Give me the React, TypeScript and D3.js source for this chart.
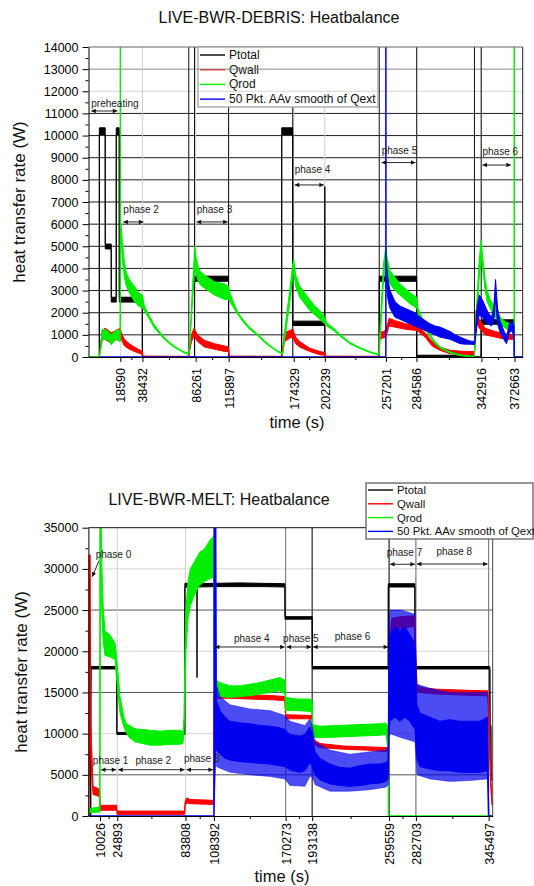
import { useEffect, useRef } from "react";
import * as d3 from "d3";

type Row = [number, number, number]; // time (s), lower edge (W), upper edge (W) of the noisy trace

const FONT = "'Liberation Sans', Arial, Helvetica, sans-serif";
const seriesNames = ["Ptotal", "Qwall", "Qrod", "50 Pkt. AAv smooth of Qext"];
const seriesColors = ["#000000", "#ff0000", "#00ee00", "#0000f0"];

// ---------------- LIVE-BWR-DEBRIS ----------------
const debrisXTicks = [18590, 38432, 86261, 115897, 174329, 202239, 257201, 284586, 342916, 372663];
const debrisYTicks = [0, 1000, 2000, 3000, 4000, 5000, 6000, 7000, 8000, 9000, 10000, 11000, 12000, 13000, 14000];
const debrisYMinor = [500, 1500, 2500, 3500, 4500, 5500, 6500, 7500, 8500, 9500, 10500, 11500, 12500, 13500];
const debrisMarkers = [80080, 85210, 115820, 173440, 251140, 284810, 336670, 342700];

const debrisPtotal: Row[] = [
  [-10000, 0, 0], [-300, 0, 0], [-250, 10050, 10350], [5000, 10050, 10350], [5050, 4880, 5100],
  [10400, 4880, 5100], [10450, 2480, 2700], [14900, 2480, 2700], [14950, 10050, 10350], [17600, 10050, 10350],
  [17650, 2480, 2700], [38300, 2480, 2700], [38350, 0, 0], [85200, 0, 0], [85250, 3420, 3650],
  [115800, 3420, 3650], [115850, 0, 0], [163500, 0, 0], [163550, 10050, 10350], [173400, 10050, 10350],
  [173450, 1420, 1620], [202200, 1420, 1620], [202250, 0, 7700], [202300, 0, 0], [251100, 0, 0],
  [251150, 3420, 3650], [284750, 3420, 3650], [284800, 20, 80], [336600, 20, 80], [336650, 0, 0],
  [342700, 0, 0], [342750, 1480, 1680], [372400, 1480, 1680], [372450, 0, 0], [380000, 0, 0],
];
const debrisQwall: Row[] = [
  [-10000, 0, 0], [-400, 0, 0], [2400, 800, 1200], [5000, 800, 1300], [10500, 600, 1100], [15000, 800, 1200],
  [18590, 800, 1300], [19500, 800, 1100], [22200, 500, 800], [26700, 350, 600], [31200, 250, 450],
  [36600, 150, 300], [38400, 100, 250], [39000, 0, 40], [79800, 0, 30], [82500, 700, 1000], [84800, 950, 1300],
  [87900, 700, 1000], [94200, 450, 750], [103200, 350, 600], [112200, 250, 500], [115800, 250, 450],
  [116500, 0, 40], [163500, 0, 30], [166200, 700, 1100], [170700, 850, 1200], [173400, 900, 1250],
  [176100, 600, 900], [179700, 450, 700], [188700, 250, 400], [197800, 100, 250], [202200, 80, 200],
  [203000, 0, 40], [251100, 0, 30], [251500, 800, 1100], [257000, 900, 1200], [260000, 1400, 1750],
  [265000, 1350, 1650], [275000, 1250, 1500], [284800, 1200, 1450], [292300, 900, 1100], [298600, 500, 700],
  [305800, 300, 450], [314800, 150, 300], [328300, 100, 250], [336700, 100, 250], [338000, 1600, 2100],
  [341000, 1300, 1700], [346300, 1000, 1300], [355300, 900, 1150], [364300, 800, 1050], [372400, 800, 1000],
  [372600, 0, 0], [380000, 0, 0],
];
const debrisQrod: Row[] = [
  [-10000, 0, 0], [-300, 0, 0], [2400, 800, 1250], [6900, 800, 1200], [10500, 550, 1000], [14100, 800, 1200],
  [18400, 700, 1200], [18590, 700, 15000], [18700, 5600, 6300], [20400, 4400, 5200], [22200, 3600, 4300],
  [24000, 3200, 3800], [26700, 2900, 3500], [31200, 2500, 3200], [35000, 2300, 2900], [38400, 2200, 2800],
  [40200, 2100, 2300], [44700, 1700, 1850], [49200, 1300, 1450], [53700, 1050, 1150], [58200, 800, 880],
  [62700, 600, 670], [67200, 430, 490], [71700, 300, 350], [76200, 180, 230], [80000, 120, 170],
  [80700, 250, 450], [83400, 2500, 3200], [85500, 4000, 5000], [86300, 3800, 4600], [87900, 3500, 4200],
  [89700, 3300, 3900], [94200, 3100, 3700], [103200, 2800, 3400], [112200, 2600, 3300], [115800, 2600, 3200],
  [117000, 2500, 2900], [121200, 2150, 2350], [124300, 1900, 2000], [130200, 1500, 1600], [134700, 1250, 1350],
  [139700, 1060, 1140], [148200, 650, 720], [155100, 390, 440], [160000, 230, 280], [164400, 120, 170],
  [166200, 800, 1200], [170700, 2400, 3000], [173400, 3600, 4200], [174300, 3900, 4400], [176100, 3200, 3700],
  [179700, 2700, 3200], [184200, 2400, 2900], [188700, 2100, 2600], [193300, 1900, 2300], [197800, 1700, 2100],
  [202200, 1500, 1800], [204000, 1400, 1550], [211300, 1150, 1250], [216400, 920, 1000], [224800, 600, 660],
  [233800, 380, 430], [242800, 200, 240], [249900, 100, 140], [251100, 100, 140], [252000, 800, 1500],
  [255000, 3500, 4200], [257200, 4300, 5000], [258100, 3800, 4500], [260800, 3300, 3900], [265300, 3000, 3600],
  [269800, 2800, 3300], [274300, 2600, 3100], [278800, 2400, 2900], [284800, 2200, 2700], [286000, 2000, 2200],
  [292300, 1300, 1450], [296800, 900, 1000], [301300, 600, 700], [305800, 400, 470], [314800, 180, 230],
  [323800, 60, 100], [332800, 20, 50], [336500, 20, 50], [337300, 500, 1200], [339100, 2000, 2800],
  [341000, 3600, 4400], [342700, 4500, 5300], [344500, 3800, 4300], [346300, 3000, 3500], [348100, 2500, 3000],
  [350800, 2200, 2600], [355300, 1800, 2200], [359800, 1500, 1800], [364300, 1300, 1600], [368800, 1200, 1500],
  [372300, 1100, 1400], [372400, 0, 15000], [372500, 0, 0], [380000, 0, 0],
];
const debrisQext: Row[] = [
  [0, 0, 0], [257000, 0, 0], [257100, 0, 15000], [257250, 3800, 4600], [258100, 3000, 4000], [259000, 2600, 3500],
  [260800, 2200, 3000], [265300, 1800, 2500], [269800, 1700, 2300], [274300, 1600, 2200], [278800, 1500, 2100],
  [283300, 1400, 2000], [287800, 1300, 1800], [292300, 1200, 1650], [296800, 1100, 1500], [301300, 1000, 1400],
  [305800, 900, 1350], [310300, 850, 1250], [314800, 800, 1150], [319300, 700, 1000], [323800, 600, 900],
  [328300, 580, 800], [332800, 580, 720], [336500, 560, 700], [337000, 600, 800], [339100, 1500, 2300],
  [341000, 1900, 2800], [343600, 1800, 2600], [346300, 1600, 2300], [349000, 1500, 2000], [352000, 1400, 1800],
  [354000, 1600, 2200], [355600, 2600, 3500], [357400, 1500, 2200], [359800, 1100, 1600], [363000, 800, 1200],
  [365500, 600, 900], [368000, 1100, 1500], [370600, 1200, 1600], [372300, 800, 1400], [372500, 0, 0],
  [380000, 0, 0],
];
const debrisPhaseNames = ["preheating", "phase 2", "phase 3", "phase 4", "phase 5", "phase 6"];
const debrisPhaseStart = [-8400, 20400, 86261, 174329, 252400, 343000];
const debrisPhaseEnd = [16800, 40200, 115897, 202239, 284586, 370300];
const debrisPhaseLabelW = [11430, 6640, 6640, 8490, 9320, 9260];
const debrisPhaseArrowW = [11110, 6100, 6100, 7770, 8780, 8670];

// ---------------- LIVE-BWR-MELT ----------------
const meltXTicks = [10026, 24893, 83808, 108392, 170273, 193138, 259559, 282703, 345497];
const meltYTicks = [0, 5000, 10000, 15000, 20000, 25000, 30000, 35000];
const meltYMinor = [2500, 7500, 12500, 17500, 22500, 27500, 32500];
const meltMarkersDark = [193138, 259559];
const meltMarkersLight = [170273, 282703, 345497];

const meltPtotal: Row[] = [
  [0, 0, 0], [2000, 0, 0], [2100, 14300, 14600], [2250, 17850, 18150], [24500, 17850, 18150],
  [24600, 9900, 10150], [83200, 9900, 10150], [83300, 27800, 28250], [93650, 27800, 28200],
  [93750, 16800, 28200], [93850, 27800, 28200], [110000, 27850, 28250], [130000, 27850, 28300],
  [150000, 27850, 28250], [169600, 27800, 28200], [169700, 23900, 24200], [193200, 23900, 24200],
  [193300, 17850, 18150], [258800, 17850, 18150], [258900, 27800, 28200], [281800, 27800, 28200],
  [281900, 17850, 18150], [346500, 17850, 18150], [346700, 11000, 11100], [347400, 10800, 11000],
  [347600, 4400, 4500], [349000, 4300, 4400],
];
const meltQwall: Row[] = [
  [0, 0, 0], [250, 0, 31700], [1500, 12000, 31700], [2000, 8000, 12000], [2600, 5500, 9000], [3500, 3800, 6000],
  [4000, 2600, 3600], [9000, 2400, 3300], [9900, 2000, 3000], [10026, 700, 1300], [24500, 700, 1300],
  [24700, 200, 600], [83000, 200, 600], [83500, 1200, 1800], [84800, 1600, 2200], [88000, 1500, 2000],
  [108400, 1400, 1900], [108500, 14300, 15200], [120000, 14300, 14800], [140000, 14200, 14700],
  [160000, 14100, 14600], [169600, 14000, 14500], [170300, 11800, 12300], [193200, 11800, 12200],
  [194000, 8800, 9300], [200000, 8300, 8800], [220000, 8100, 8500], [240000, 8000, 8400], [258800, 7800, 8300],
  [259000, 9000, 11000], [259600, 15000, 18000], [260300, 20000, 22000], [262000, 22500, 24000],
  [270000, 22800, 24200], [281800, 23000, 24300], [282500, 17000, 20000], [283600, 15200, 16000],
  [286200, 15000, 15600], [300000, 14800, 15400], [320000, 14700, 15300], [340000, 14600, 15200],
  [344600, 14600, 15200], [345500, 12000, 14000], [346600, 6000, 9000], [347500, 3000, 4500],
  [348300, 1400, 2000], [349000, 1200, 1600],
];
const meltQrod: Row[] = [
  [0, 0, 0], [600, 0, 0], [900, 400, 900], [9800, 500, 1100], [9950, 500, 40000], [10400, 34000, 40000],
  [11000, 28000, 36000], [11700, 24000, 30000], [12900, 21000, 25000], [14300, 19500, 22500],
  [18600, 19300, 22000], [23000, 19000, 21000], [23800, 17500, 20000], [25500, 15000, 17500],
  [27300, 12500, 14500], [30700, 10800, 12000], [32400, 10200, 11300], [35500, 9500, 11000],
  [40200, 9000, 10600], [53200, 8600, 10400], [61800, 8600, 10300], [70400, 8700, 10400], [79000, 8700, 10400],
  [81600, 8800, 10200], [82500, 10000, 12000], [83400, 14000, 20000], [84200, 20000, 25000],
  [86000, 24000, 28500], [88000, 25500, 30000], [92000, 27000, 31000], [96000, 28000, 32000],
  [100600, 28500, 32500], [104900, 28800, 33500], [108400, 29000, 34000], [108700, 14600, 16600],
  [113600, 14500, 16200], [122200, 14400, 15800], [130800, 14500, 15800], [139500, 14600, 16000],
  [148100, 14800, 16200], [156700, 15000, 16500], [165300, 15200, 16800], [169600, 14800, 16500],
  [170300, 12800, 14400], [180000, 12800, 14200], [191200, 12700, 14200], [193200, 12500, 14000],
  [193800, 9600, 11100], [200000, 9500, 10900], [217100, 9600, 11000], [234400, 9700, 11100],
  [251700, 9800, 11200], [256800, 9900, 11300], [258000, 8800, 11000], [258800, 8500, 10500],
  [258850, 0, 10500], [259000, 0, 0], [349000, 0, 0],
];
const meltQextCore: Row[] = [
  [0, 0, 0], [108300, 0, 0], [108400, 0, 40000], [110000, 9000, 40000], [110500, 8000, 14000],
  [113600, 7500, 12800], [117900, 7000, 12000], [122200, 6800, 11500], [130800, 6600, 11300],
  [139500, 6500, 11200], [148100, 6400, 11000], [156700, 6300, 10900], [165300, 6100, 10700],
  [169600, 6000, 10500], [173900, 5600, 9900], [182600, 5300, 9700], [186900, 5500, 9900], [191200, 6500, 10800],
  [193200, 6000, 9800], [195600, 5000, 7800], [199900, 4400, 7000], [208500, 3900, 6300], [217100, 3700, 5900],
  [225800, 3600, 5800], [234400, 3700, 6100], [243000, 3900, 6300], [251700, 4000, 6300], [256800, 4200, 6500],
  [258800, 4500, 6800], [259300, 10000, 19000], [260300, 11500, 22000], [264600, 12000, 23000],
  [268900, 11500, 22500], [273200, 12000, 23000], [277500, 11500, 22000], [281900, 10500, 21000],
  [283600, 7000, 13500], [286200, 6000, 12500], [294800, 5700, 12000], [303400, 5500, 11500],
  [312100, 5500, 11700], [320700, 5300, 11500], [329300, 5300, 11500], [338000, 5300, 11500],
  [344600, 5500, 12000], [345300, 0, 3000], [345800, 0, 0], [349000, 0, 0],
];
const meltQextSpikes: Row[] = [
  [110500, 6000, 16000], [113600, 5800, 14500], [122200, 5300, 13500], [139500, 5000, 13000],
  [156700, 4800, 12800], [169600, 4500, 12200], [173900, 3700, 11500], [186900, 3600, 11000],
  [191200, 4800, 11800], [193200, 4800, 11000], [195600, 3800, 9000], [208500, 3000, 8000], [225800, 3000, 7500],
  [243000, 3200, 7800], [256800, 3500, 8000], [258800, 3800, 8500], [259300, 9500, 23000], [260300, 10000, 25000],
  [270000, 9500, 25000], [281900, 9000, 24500], [283600, 5000, 16000], [294800, 4500, 15500],
  [312100, 4200, 15000], [329300, 4300, 15000], [344600, 4500, 15000], [345300, 0, 3000],
];
const meltPhaseNames = ["phase 1", "phase 2", "phase 3", "phase 4", "phase 5", "phase 6", "phase 7", "phase 8"];
const meltPhaseStart = [10026, 24893, 83808, 108392, 170273, 193138, 259559, 282703];
const meltPhaseEnd = [24893, 83808, 108392, 170273, 193138, 259559, 282703, 345497];
const meltPhaseLabelW = [6680, 6680, 6920, 21550, 21550, 21850, 31930, 32050];
const meltPhaseArrowW = [5620, 5620, 5620, 20520, 20520, 20520, 30560, 30590];
const meltPhase0Label = [6300, 31800];
const meltPhase0Pointer = [[9150, 31000], [3370, 29050]];

const debrisPanel = {
  id: "debris",
  title: "LIVE-BWR-DEBRIS: Heatbalance",
  titleX: 279, titleY: 23,
  left: 88.5, right: 522.7, top: 47, bottom: 357,
  xDomain: [-10000, 380000], yDomain: [0, 14000],
  xTicks: debrisXTicks, yTicks: debrisYTicks, yMinor: debrisYMinor,
  gridColor: (v: number) => (v === 12000 ? "#d4d4d4" : v === 13000 ? "#888" : "#1e1e1e"),
  darkMarkers: debrisMarkers, lightMarkers: [] as number[],
  series: [debrisPtotal, debrisQwall, debrisQrod],
  qextCore: debrisQext, qextSpikes: [] as Row[],
  phaseNames: debrisPhaseNames, phaseStart: debrisPhaseStart, phaseEnd: debrisPhaseEnd,
  phaseLabel: debrisPhaseLabelW, phaseArrow: debrisPhaseArrowW, labelAtStart: true,
  xLabelGap: 11, yTitleX: 19, xTitleX: 297, xTitleY: 428,
  legend: { x: 198, y: 47, w: 180, h: 60, row0: 8, step: 14.7, font: 12, stroke: "#999" },
  frameTop: "#666", frameRight: "#222",
};

const meltPanel = {
  id: "melt",
  title: "LIVE-BWR-MELT: Heatbalance",
  titleX: 219, titleY: 505,
  left: 88.4, right: 492.7, top: 527.7, bottom: 816,
  xDomain: [0, 349000], yDomain: [0, 35000],
  xTicks: meltXTicks, yTicks: meltYTicks, yMinor: meltYMinor,
  gridColor: (v: number) => (v % 10000 === 0 ? "#d4d4d4" : "#555"),
  darkMarkers: meltMarkersDark, lightMarkers: meltMarkersLight,
  series: [meltPtotal, meltQwall, meltQrod],
  qextCore: meltQextCore, qextSpikes: meltQextSpikes,
  phaseNames: meltPhaseNames, phaseStart: meltPhaseStart, phaseEnd: meltPhaseEnd,
  phaseLabel: meltPhaseLabelW, phaseArrow: meltPhaseArrowW, labelAtStart: false,
  xLabelGap: 7, yTitleX: 21, xTitleX: 282, xTitleY: 882,
  legend: { x: 366, y: 483, w: 167, h: 56, row0: 7, step: 13.8, font: 11.3, stroke: "#555" },
  frameTop: "#111", frameRight: "#444",
};

type Panel = typeof debrisPanel;

function drawPanel(svg: any, defs: any, p: Panel) {
  const x = d3.scaleLinear().domain(p.xDomain).range([p.left, p.right]);
  const y = d3.scaleLinear().domain(p.yDomain).range([p.bottom, p.top]);
  const g = svg.append("g").attr("font-family", FONT);

  defs.append("clipPath").attr("id", `${p.id}-clip`).append("rect")
    .attr("x", p.left).attr("y", p.top).attr("width", p.right - p.left).attr("height", p.bottom - p.top);

  // horizontal grid
  const gridVals = p.yTicks.filter((v) => v > p.yDomain[0] && v < p.yDomain[1]);
  gridVals.forEach((v) => {
    g.append("line").attr("x1", p.left).attr("x2", p.right).attr("y1", y(v)).attr("y2", y(v))
      .attr("stroke", p.gridColor(v)).attr("stroke-width", 1);
  });
  // vertical grid at the phase ticks
  p.xTicks.forEach((t) => {
    g.append("line").attr("x1", x(t)).attr("x2", x(t)).attr("y1", p.top).attr("y2", p.bottom)
      .attr("stroke", "#cfcfcf").attr("stroke-width", 1);
  });
  p.lightMarkers.forEach((t) => {
    g.append("line").attr("x1", x(t)).attr("x2", x(t)).attr("y1", p.top).attr("y2", p.bottom)
      .attr("stroke", "#777").attr("stroke-width", 1);
  });
  p.darkMarkers.forEach((t) => {
    g.append("line").attr("x1", x(t)).attr("x2", x(t)).attr("y1", p.top).attr("y2", p.bottom)
      .attr("stroke", "#111").attr("stroke-width", 1);
  });

  // data
  const data = g.append("g").attr("clip-path", `url(#${p.id}-clip)`);
  const band = (rows: Row[], color: string, op = 1, sw = 1) => {
    if (!rows.length) return;
    const a = d3.area<Row>().x((d) => x(d[0])).y0((d) => y(d[1])).y1((d) => y(d[2]));
    data.append("path").attr("d", a(rows)).attr("fill", color).attr("fill-opacity", op)
      .attr("stroke", color).attr("stroke-opacity", op).attr("stroke-width", sw).attr("stroke-linejoin", "round");
  };
  p.series.forEach((rows, i) => band(rows, seriesColors[i]));
  band(p.qextSpikes, seriesColors[3], 0.7, 0.6);
  band(p.qextCore, seriesColors[3], 1, 1);

  // phase annotations
  const ann = g.append("g").attr("font-size", 10).attr("fill", "#222");
  p.phaseNames.forEach((name, i) => {
    const x0 = x(p.phaseStart[i]);
    const x1 = x(p.phaseEnd[i]);
    const ya = y(p.phaseArrow[i]);
    ann.append("line").attr("x1", x0 + 1).attr("x2", x1 - 1).attr("y1", ya).attr("y2", ya)
      .attr("stroke", "#111").attr("stroke-width", 0.9)
      .attr("marker-start", "url(#ah)").attr("marker-end", "url(#ah)");
    ann.append("text").attr("x", p.labelAtStart ? x0 + 1 : (x0 + x1) / 2 + 2).attr("y", y(p.phaseLabel[i]))
      .attr("text-anchor", p.labelAtStart ? "start" : "middle").attr("dominant-baseline", "central").text(name);
  });
  if (p.id === "melt") {
    ann.append("text").attr("x", x(meltPhase0Label[0])).attr("y", y(meltPhase0Label[1]))
      .attr("dominant-baseline", "central").text("phase 0");
    ann.append("line")
      .attr("x1", x(meltPhase0Pointer[0][0])).attr("y1", y(meltPhase0Pointer[0][1]))
      .attr("x2", x(meltPhase0Pointer[1][0])).attr("y2", y(meltPhase0Pointer[1][1]))
      .attr("stroke", "#111").attr("stroke-width", 0.9).attr("marker-end", "url(#ah)");
  }

  // frame
  g.append("line").attr("x1", p.left).attr("x2", p.right).attr("y1", p.top).attr("y2", p.top)
    .attr("stroke", p.frameTop);
  g.append("line").attr("x1", p.right).attr("x2", p.right).attr("y1", p.top).attr("y2", p.bottom)
    .attr("stroke", p.frameRight);

  // legend
  const L = p.legend;
  const lg = g.append("g");
  lg.append("rect").attr("x", L.x).attr("y", L.y).attr("width", L.w).attr("height", L.h)
    .attr("fill", "#fff").attr("stroke", L.stroke).attr("stroke-width", 1.2);
  seriesNames.forEach((name, i) => {
    const cy = L.y + L.row0 + i * L.step;
    lg.append("line").attr("x1", L.x + 2).attr("x2", L.x + 27).attr("y1", cy).attr("y2", cy)
      .attr("stroke", seriesColors[i]).attr("stroke-width", 1.4);
    lg.append("text").attr("x", L.x + 31).attr("y", cy).attr("dominant-baseline", "central")
      .attr("font-size", L.font).attr("fill", "#111").text(name);
  });
  gridVals.filter((v) => y(v) > L.y && y(v) < L.y + L.h).forEach((v) => {
    lg.append("line").attr("x1", L.x).attr("x2", L.x + L.w).attr("y1", y(v)).attr("y2", y(v))
      .attr("stroke", p.gridColor(v));
  });

  // axes
  const ya = g.append("g").attr("transform", `translate(${p.left},0)`)
    .call(d3.axisLeft(y).tickValues(p.yTicks).tickSize(6).tickSizeOuter(0).tickPadding(4).tickFormat(d3.format("d")));
  ya.attr("font-family", FONT).attr("font-size", 12.5);
  g.append("g").attr("transform", `translate(${p.left},0)`)
    .call(d3.axisLeft(y).tickValues(p.yMinor).tickSize(3).tickFormat(() => ""))
    .select(".domain").remove();

  const xa = g.append("g").attr("transform", `translate(0,${p.bottom})`)
    .call(d3.axisBottom(x).tickValues(p.xTicks).tickSize(5).tickSizeOuter(0).tickFormat(d3.format("d")));
  xa.attr("font-family", FONT).attr("font-size", 12.5);
  xa.selectAll("text").attr("transform", "rotate(-90)").attr("text-anchor", "end")
    .attr("x", -p.xLabelGap).attr("y", 0).attr("dy", "0.35em");
  const minorX = d3.pairs(p.xTicks).map(([a, b]) => (a + b) / 2);
  g.append("g").attr("transform", `translate(0,${p.bottom})`)
    .call(d3.axisBottom(x).tickValues(minorX).tickSize(3).tickFormat(() => ""))
    .select(".domain").remove();

  // titles
  g.append("text").attr("x", p.titleX).attr("y", p.titleY).attr("text-anchor", "middle")
    .attr("font-size", 16).attr("fill", "#111").text(p.title);
  g.append("text").attr("transform", `translate(${p.yTitleX},${(p.top + p.bottom) / 2}) rotate(-90)`)
    .attr("text-anchor", "middle").attr("dominant-baseline", "central").attr("font-size", 17)
    .attr("fill", "#111").text("heat transfer rate (W)");
  g.append("text").attr("x", p.xTitleX).attr("y", p.xTitleY).attr("text-anchor", "middle")
    .attr("font-size", 16.5).attr("fill", "#111").text("time (s)");
}

export default function App() {
  const ref = useRef<SVGSVGElement>(null);
  useEffect(() => {
    const svg = d3.select(ref.current);
    svg.selectAll("*").remove();
    const defs = svg.append("defs");
    defs.append("marker").attr("id", "ah").attr("viewBox", "0 0 10 10").attr("refX", 10).attr("refY", 5)
      .attr("markerWidth", 6).attr("markerHeight", 5).attr("orient", "auto-start-reverse")
      .append("path").attr("d", "M0,0 L10,5 L0,10 z").attr("fill", "#111");
    drawPanel(svg, defs, debrisPanel);
    drawPanel(svg, defs, meltPanel);
  }, []);
  return (
    <svg ref={ref} width={534} height={886}
      style={{ position: "absolute", left: 0, top: 0, background: "#fff" }} />
  );
}
